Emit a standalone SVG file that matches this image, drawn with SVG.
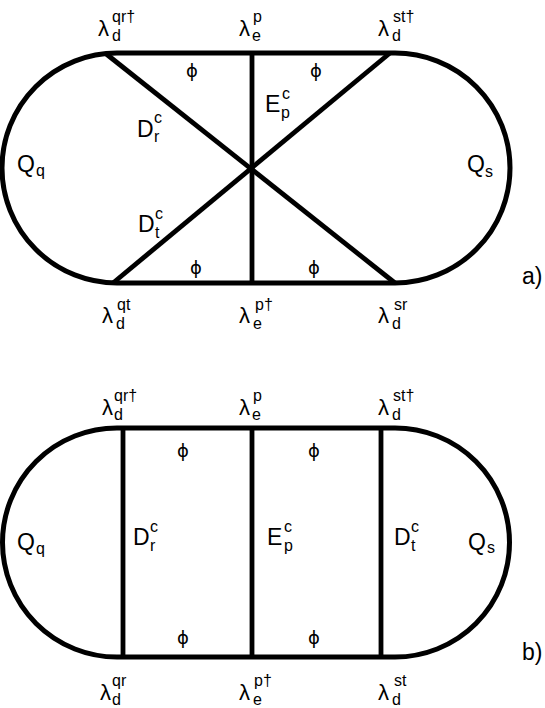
<svg xmlns="http://www.w3.org/2000/svg" width="545" height="708" viewBox="0 0 545 708">
<style>
.o{fill:none;stroke:#000;stroke-width:5}
.l{stroke:#000;stroke-width:4.8;fill:none}
text{font-family:"Liberation Sans",Arial,sans-serif;fill:#000}
.m{font-size:23px}
.g{font-size:22px}
.s{font-size:16px}
.f{font-family:"DejaVu Sans",sans-serif;font-size:18px;text-anchor:middle}
</style>
<g id="panel-a">
<path id="outline-a" class="o" d="M117,53 H395 A115,115 0 0 1 395,283 H117 A115,115 0 0 1 117,53 Z"/>
<g id="connectors-a">
<line class="l" x1="105" y1="53" x2="395" y2="283"/>
<line class="l" x1="390" y1="53" x2="113" y2="283"/>
<line class="l" x1="252" y1="53" x2="252" y2="283"/>
</g>
<g id="labels-a">
<text class="g" x="98" y="36">λ</text><text class="s" x="112" y="41">d</text><text class="s" x="112" y="22">qr†</text>
<text class="g" x="239" y="36">λ</text><text class="s" x="252" y="41">e</text><text class="s" x="253" y="22">p</text>
<text class="g" x="378" y="36">λ</text><text class="s" x="392" y="41">d</text><text class="s" x="393" y="22">st†</text>
<text class="g" x="102" y="323">λ</text><text class="s" x="116" y="329">d</text><text class="s" x="117" y="310">qt</text>
<text class="g" x="239" y="323">λ</text><text class="s" x="253" y="329">e</text><text class="s" x="255" y="310">p†</text>
<text class="g" x="378" y="323">λ</text><text class="s" x="392" y="329">d</text><text class="s" x="394" y="310">sr</text>
<text class="f" x="192" y="77">ϕ</text><text class="f" x="316" y="77">ϕ</text>
<text class="f" x="196" y="274">ϕ</text><text class="f" x="314" y="274">ϕ</text>
<text class="m" x="137" y="137">D</text><text class="s" x="154" y="123">c</text><text class="s" x="154" y="142">r</text>
<text class="m" x="265" y="112">E</text><text class="s" x="282" y="99">c</text><text class="s" x="281" y="118">p</text>
<text class="m" x="138" y="232">D</text><text class="s" x="155" y="219">c</text><text class="s" x="155" y="238">t</text>
<text class="m" x="17" y="172">Q</text><text class="s" x="36" y="176">q</text>
<text class="m" x="467" y="172">Q</text><text class="s" x="485" y="177">s</text>
<text class="m" x="522" y="284">a)</text>
</g>
</g>
<g id="panel-b">
<path id="outline-b" class="o" d="M117,428 H395 A114.5,114.5 0 0 1 395,657 H117 A114.5,114.5 0 0 1 117,428 Z"/>
<g id="connectors-b">
<line class="l" x1="123" y1="428" x2="123" y2="657"/>
<line class="l" x1="252" y1="428" x2="252" y2="657"/>
<line class="l" x1="381" y1="428" x2="381" y2="657"/>
</g>
<g id="labels-b">
<text class="g" x="102" y="415">λ</text><text class="s" x="114" y="420">d</text><text class="s" x="114" y="401">qr†</text>
<text class="g" x="239" y="415">λ</text><text class="s" x="252" y="420">e</text><text class="s" x="253" y="401">p</text>
<text class="g" x="378" y="415">λ</text><text class="s" x="392" y="420">d</text><text class="s" x="393" y="401">st†</text>
<text class="g" x="100" y="700">λ</text><text class="s" x="112" y="705">d</text><text class="s" x="112" y="686">qr</text>
<text class="g" x="239" y="700">λ</text><text class="s" x="253" y="705">e</text><text class="s" x="254" y="686">p†</text>
<text class="g" x="378" y="700">λ</text><text class="s" x="392" y="705">d</text><text class="s" x="394" y="686">st</text>
<text class="f" x="183" y="457">ϕ</text><text class="f" x="314" y="457">ϕ</text>
<text class="f" x="183" y="644">ϕ</text><text class="f" x="314" y="644">ϕ</text>
<text class="m" x="133" y="545">D</text><text class="s" x="150" y="532">c</text><text class="s" x="150" y="551">r</text>
<text class="m" x="267" y="545">E</text><text class="s" x="284" y="532">c</text><text class="s" x="284" y="551">p</text>
<text class="m" x="394" y="545">D</text><text class="s" x="411" y="532">c</text><text class="s" x="411" y="551">t</text>
<text class="m" x="17" y="550">Q</text><text class="s" x="36" y="554">q</text>
<text class="m" x="468" y="550">Q</text><text class="s" x="487" y="553">s</text>
<text class="m" x="522" y="660">b)</text>
</g>
</g>
</svg>
